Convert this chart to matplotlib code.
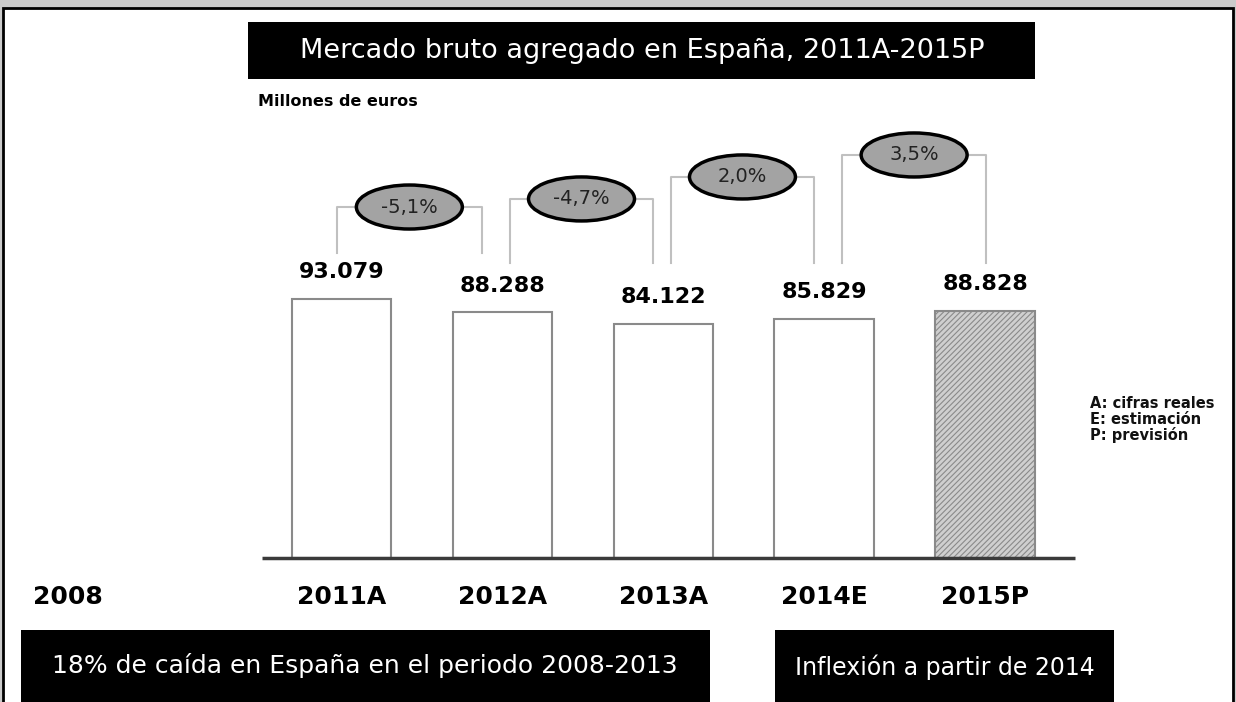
import matplotlib
matplotlib.use("Agg")
import matplotlib.pyplot as plt
from matplotlib.patches import Rectangle, Ellipse
import matplotlib as mpl
import matplotlib.transforms as mtrans

# ---- data ----
categories = ["2011A", "2012A", "2013A", "2014E", "2015P"]
values = [93079, 88288, 84122, 85829, 88828]
value_labels = ["93.079", "88.288", "84.122", "85.829", "88.828"]
changes = ["-5,1%", "-4,7%", "2,0%", "3,5%"]
title = "Mercado bruto agregado en España, 2011A-2015P"
unit_label = "Millones de euros"
start_label = "2008"
legend_lines = ["A: cifras reales", "E: estimación", "P: previsión"]
box_left_text = "18% de caída en España en el periodo 2008-2013"
box_right_text = "Inflexión a partir de 2014"

# ---- styling / layout (not data) ----
bracket_top = [126100, 129000, 136900, 144800]
bracket_bottom = [109600, 106000, 106000, 106000]
bracket_left_off = [-0.03, 0.047, 0.047, 0.109]
bracket_right_off = [-0.127, -0.065, -0.065, 0.006]

W, H = 1236, 702
mpl.rcParams['font.family'] = ['DejaVu Sans']
mpl.rcParams['hatch.color'] = '#707070'
mpl.rcParams['hatch.linewidth'] = 0.8
fig = plt.figure(figsize=(W / 100, H / 100), dpi=100)
fig.patch.set_facecolor('#cbcbcb')

def fx(px):
    return px / W

def fy(py):
    return 1 - py / H

# white panel with black border
fig.patches.append(Rectangle((fx(3), fy(712)), fx(1230), (712 - 8) / H,
                             transform=fig.transFigure, facecolor='white',
                             edgecolor='black', linewidth=2, zorder=-5))

# title box
fig.patches.append(Rectangle((fx(248), fy(79)), fx(787), 57 / H,
                             transform=fig.transFigure, facecolor='black',
                             edgecolor='none', zorder=1))
fig.text(fx(642), fy(51), title, color='white', fontsize=19.5,
         ha='center', va='center', zorder=2)
fig.text(fx(258), fy(102), unit_label, color='black', fontsize=11.5,
         fontweight='bold', ha='left', va='center')

# axes
ax = fig.add_axes([fx(262), fy(558), fx(1075 - 262), (558 - 140.5) / H])
ax.set_zorder(3)
ax.set_xlim(-0.494, 4.557)
ax.set_ylim(0, 150000)
ax.axis('off')
ax.patch.set_alpha(0)

x = list(range(len(categories)))
bars = ax.bar(x, values, width=0.62, facecolor='white', edgecolor='#8a8a8a',
              linewidth=1.5, zorder=2)
last = bars[-1]
last.set_facecolor('#cfcfcf')
last.set_hatch('//////')

# baseline
ax.plot([-0.494, 4.557], [0, 0], color='#3a3a3a', linewidth=2.5,
        solid_capstyle='butt', clip_on=False, zorder=3)

# value labels
for xi, v, lab in zip(x, values, value_labels):
    ax.annotate(lab, (xi, v), xytext=(0, 12), textcoords='offset points',
                ha='center', va='bottom', fontsize=16, fontweight='bold')

# category labels below baseline
below = ax.transData + mtrans.ScaledTranslation(0, -39 / 100, fig.dpi_scale_trans)
for xi, c in zip(x, categories):
    ax.text(xi, 0, c, transform=below, ha='center', va='center',
            fontsize=18, fontweight='bold', clip_on=False)
ax.text(-1.70, 0, start_label, ha='center', va='center', fontsize=18,
        fontweight='bold', clip_on=False, transform=below)

# brackets with ellipses
for i, ch in enumerate(changes):
    xl = i + bracket_left_off[i]
    xr = i + 1 + bracket_right_off[i]
    top = bracket_top[i]
    bot = bracket_bottom[i]
    ax.plot([xl, xl, xr, xr], [bot, top, top, bot], color='#c0c0c0',
            linewidth=1.5, clip_on=False, zorder=1)
    cx = (xl + xr) / 2
    e = Ellipse((cx, top), width=106 / 161, height=44 / 0.002783,
                facecolor='#a3a3a3', edgecolor='black', linewidth=2.5,
                clip_on=False, zorder=4)
    ax.add_patch(e)
    ax.text(cx, top, ch, ha='center', va='center', fontsize=14,
            color='#222222', zorder=5, clip_on=False)

# legend notes
for k, line in enumerate(legend_lines):
    fig.text(fx(1090), fy(404 + 15.5 * k), line, fontsize=10.5,
             fontweight='bold', ha='left', va='center', color='#111111')

# bottom boxes
fig.patches.append(Rectangle((fx(21), fy(712)), fx(710 - 21), (712 - 630) / H,
                             transform=fig.transFigure, facecolor='black',
                             edgecolor='none', zorder=1))
fig.text(fx(365), fy(666), box_left_text, color='white', fontsize=18,
         ha='center', va='center', zorder=2)
fig.patches.append(Rectangle((fx(775), fy(712)), fx(1114 - 775), (712 - 630) / H,
                             transform=fig.transFigure, facecolor='black',
                             edgecolor='none', zorder=1))
fig.text(fx(945), fy(667), box_right_text, color='white', fontsize=17,
         ha='center', va='center', zorder=2)

fig.savefig('out.png', dpi=100, facecolor=fig.get_facecolor())
